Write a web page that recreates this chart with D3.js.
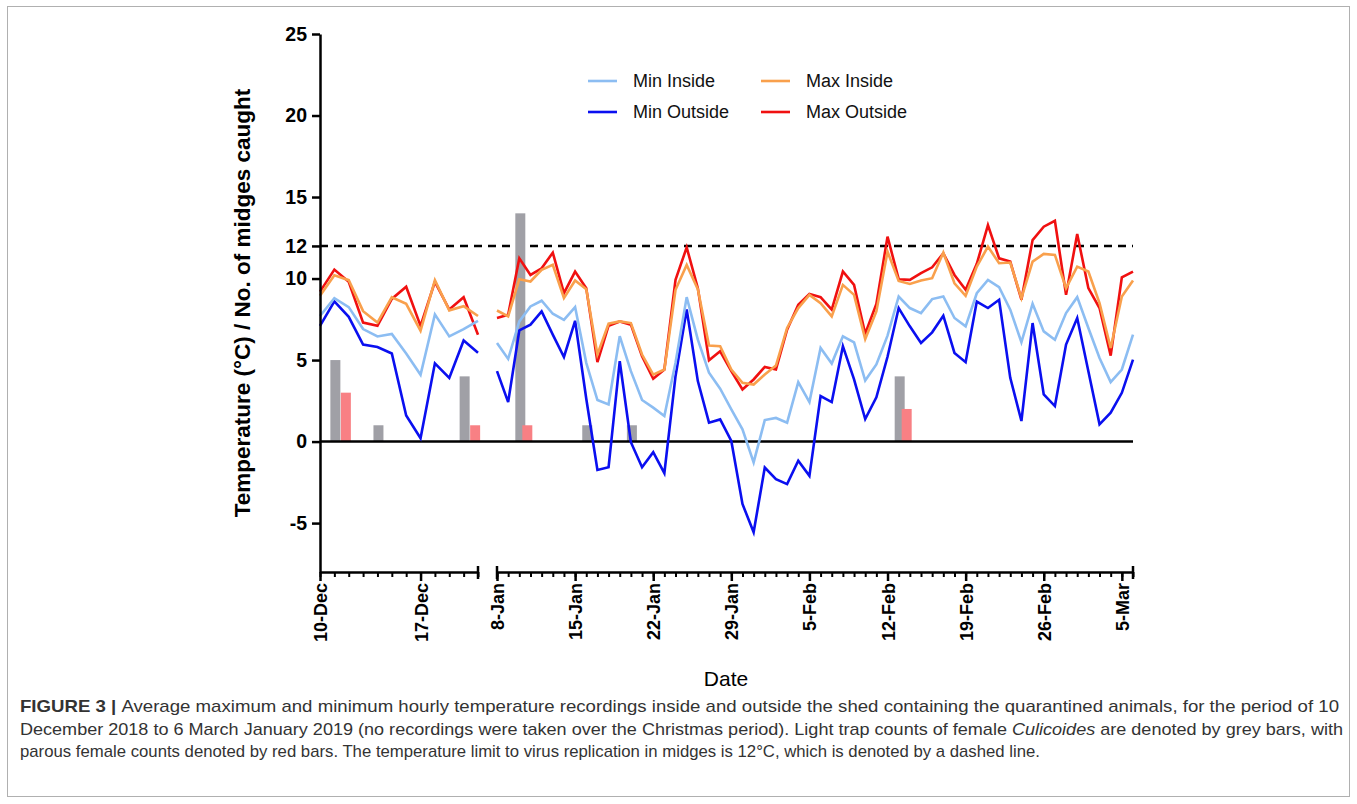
<!DOCTYPE html>
<html>
<head>
<meta charset="utf-8">
<script src="https://cdn.jsdelivr.net/npm/d3@7"></script>
<style>
  body { margin: 0; background: #fff; }
  svg { display: block; font-family: "Liberation Sans", Arial, sans-serif; }
</style>
</head>
<body>
<svg width="1357" height="804"></svg>
<script>
// --- data ---
const seriesNames = ["Min Inside", "Min Outside", "Max Inside", "Max Outside"];
const seriesColors = ["#8cbdf2", "#0a0ff0", "#f9a04c", "#f01010"];

// 10-Dec to 21-Dec 2018
const decMinInside  = [7.7, 8.8, 8.25, 6.9, 6.45, 6.6, 5.4, 4.1, 7.8, 6.45, 6.9, 7.4];
const decMinOutside = [7.1, 8.6, 7.65, 5.95, 5.8, 5.4, 1.6, 0.2, 4.8, 3.9, 6.2, 5.45];
const decMaxInside  = [8.95, 10.2, 9.9, 8.0, 7.3, 8.85, 8.45, 6.8, 9.9, 8.05, 8.3, 7.7];
const decMaxOutside = [9.2, 10.55, 9.8, 7.3, 7.1, 8.75, 9.5, 7.1, 9.8, 8.1, 8.85, 6.55];

// 8-Jan to 6-Mar 2019
const janMinInside = [6.05, 5.07, 7.37, 8.29, 8.64, 7.84, 7.47, 8.25, 4.83, 2.55,
  2.28, 6.46, 4.32, 2.55, 2.08, 1.57, 4.83, 8.86, 6.25, 4.22,
  3.24, 1.98, 0.75, -1.28, 1.32, 1.45, 1.16, 3.65, 2.42, 5.74,
  4.79, 6.46, 6.09, 3.74, 4.73, 6.5, 8.9, 8.19, 7.88, 8.74,
  8.9, 7.58, 7.07, 9.1, 9.92, 9.47, 8.09, 6.09, 8.45, 6.76,
  6.25, 7.88, 8.86, 6.97, 5.13, 3.65, 4.42, 6.56];
const janMinOutside = [4.32, 2.42, 6.82, 7.17, 7.98, 6.56, 5.19, 7.41, 2.63, -1.74,
  -1.57, 4.93, -0.04, -1.57, -0.65, -1.94, 4.01, 8.1, 3.71, 1.16,
  1.36, 0.04, -3.83, -5.56, -1.59, -2.3, -2.61, -1.18, -2.1, 2.79,
  2.42, 5.85, 3.81, 1.38, 2.72, 5.2, 8.19, 7.07, 6.05, 6.7,
  7.72, 5.44, 4.87, 8.59, 8.19, 8.7, 3.91, 1.26, 7.27, 2.89,
  2.18, 5.95, 7.58, 4.32, 1.06, 1.77, 2.99, 5.03];
const janMaxInside = [8.04, 7.68, 9.96, 9.82, 10.53, 10.84, 8.8, 9.88, 9.35, 5.34,
  7.23, 7.37, 7.27, 5.34, 4.11, 4.42, 9.31, 10.84, 9.35, 5.89,
  5.85, 4.42, 3.6, 3.5, 4.11, 4.66, 6.97, 8.19, 9.0, 8.49,
  7.68, 9.61, 9.0, 6.29, 7.98, 11.65, 9.85, 9.67, 9.88, 10.02,
  11.59, 9.71, 8.94, 10.73, 11.96, 10.94, 10.98, 8.8, 11.04, 11.51,
  11.45, 9.41, 10.73, 10.43, 8.49, 5.74, 8.9, 9.88];
const janMaxOutside = [7.58, 7.78, 11.24, 10.22, 10.63, 11.59, 9.1, 10.43, 9.41, 4.87,
  7.11, 7.37, 7.17, 5.23, 3.85, 4.42, 9.92, 11.91, 9.41, 4.99,
  5.54, 4.32, 3.2, 3.81, 4.58, 4.42, 6.86, 8.39, 9.06, 8.86,
  8.09, 10.43, 9.61, 6.61, 8.44, 12.57, 9.96, 9.92, 10.33, 10.69,
  11.55, 10.22, 9.31, 10.9, 13.28, 11.24, 11.04, 8.7, 12.36, 13.18,
  13.54, 9.0, 12.73, 9.41, 8.19, 5.27, 10.08, 10.43];

// light trap counts
const greyDates = ["2018-12-11", "2018-12-14", "2018-12-20", "2019-01-10", "2019-01-16", "2019-01-20", "2019-02-13"];
const greyCounts = [5, 1, 4, 14, 1, 1, 4];
const parousDates = ["2018-12-11", "2018-12-20", "2019-01-10", "2019-02-13"];
const parousCounts = [3, 1, 1, 2];

const yTicks = [-5, 0, 5, 10, 12, 15, 20, 25];
const decTicks = ["2018-12-10", "2018-12-17"];
const janTicks = ["2019-01-08", "2019-01-15", "2019-01-22", "2019-01-29", "2019-02-05",
  "2019-02-12", "2019-02-19", "2019-02-26", "2019-03-05"];
const threshold = 12;

// --- setup ---
const svg = d3.select("svg");
const parse = d3.timeParse("%Y-%m-%d");
const fmt = d3.timeFormat("%-d-%b");

const decStart = parse("2018-12-10"), decEnd = parse("2018-12-21");
const janStart = parse("2019-01-08"), janEnd = parse("2019-03-06");
const decDays = d3.timeDay.range(decStart, d3.timeDay.offset(decEnd, 1));
const janDays = d3.timeDay.range(janStart, d3.timeDay.offset(janEnd, 1));

const xDec = d3.scaleTime().domain([decStart, decEnd]).range([320, 478]);
const xJan = d3.scaleTime().domain([janStart, janEnd]).range([497, 1133]);
const y = d3.scaleLinear().domain([-8, 25]).range([572, 34]);
const xOf = d => (d < janStart ? xDec(d) : xJan(d));

// frame
svg.append("rect").attr("x", 7.5).attr("y", 6.5).attr("width", 1342).attr("height", 790)
  .attr("fill", "none").attr("stroke", "#b0b0b0");

// threshold line
svg.append("line")
  .attr("x1", 320).attr("x2", 1133)
  .attr("y1", y(threshold)).attr("y2", y(threshold))
  .attr("stroke", "#000").attr("stroke-width", 2.5).attr("stroke-dasharray", "8,6");

// bars
const bw = 10;
const grey = greyDates.map((d, i) => ({date: parse(d), v: greyCounts[i]}));
const parous = parousDates.map((d, i) => ({date: parse(d), v: parousCounts[i]}));

svg.append("g").selectAll("rect").data(grey).enter().append("rect")
  .attr("x", d => xOf(d.date) - 4)
  .attr("y", d => y(d.v))
  .attr("width", bw)
  .attr("height", d => y(0) - y(d.v))
  .attr("fill", "#a0a0a6");

svg.append("g").selectAll("rect").data(parous).enter().append("rect")
  .attr("x", d => xOf(d.date) + (d.date < janStart ? 6.5 : 3))
  .attr("y", d => y(d.v))
  .attr("width", bw)
  .attr("height", d => y(0) - y(d.v))
  .attr("fill", "#f88084");

// zero line
svg.append("line")
  .attr("x1", 320).attr("x2", 1133)
  .attr("y1", y(0)).attr("y2", y(0))
  .attr("stroke", "#000").attr("stroke-width", 2.5);

// series lines
const decSeries = [decMinInside, decMinOutside, decMaxInside, decMaxOutside];
const janSeries = [janMinInside, janMinOutside, janMaxInside, janMaxOutside];
const drawOrder = [3, 2, 1, 0];

const lineDec = d3.line().x((d, i) => xDec(decDays[i])).y(d => y(d));
const lineJan = d3.line().x((d, i) => xJan(janDays[i])).y(d => y(d));

const lines = svg.append("g").attr("fill", "none").attr("stroke-width", 2.6).attr("stroke-linejoin", "miter");
drawOrder.forEach(k => {
  lines.append("path").attr("d", lineDec(decSeries[k])).attr("stroke", seriesColors[k]);
  lines.append("path").attr("d", lineJan(janSeries[k])).attr("stroke", seriesColors[k]);
});

// y axis
const yAxis = svg.append("g").attr("transform", "translate(320,0)")
  .call(d3.axisLeft(y).tickValues(yTicks).tickFormat(d => String(d)).tickSize(8).tickPadding(5).tickSizeOuter(0));
yAxis.select(".domain").attr("stroke-width", 2.5);
yAxis.selectAll(".tick line").attr("stroke-width", 2.5);
yAxis.selectAll("text").attr("font-size", 19.5).attr("font-weight", "bold").attr("fill", "#000");

// x axes (two segments)
function xAxisSegment(scale, days, ticks) {
  const g = svg.append("g").attr("transform", "translate(0,572)");
  const minor = g.append("g").call(d3.axisBottom(scale).tickValues(days).tickSize(5).tickFormat("").tickSizeOuter(0));
  minor.select(".domain").attr("stroke-width", 2.5);
  minor.selectAll(".tick line").attr("stroke-width", 2);
  const major = g.append("g").call(d3.axisBottom(scale).tickValues(ticks.map(parse)).tickSize(9).tickFormat(fmt).tickSizeOuter(0));
  major.select(".domain").remove();
  major.selectAll(".tick line").attr("stroke-width", 2.5);
  major.selectAll("text")
    .attr("transform", "rotate(-90)")
    .attr("text-anchor", "end")
    .attr("x", -11).attr("y", 0).attr("dy", "0.36em")
    .attr("font-size", 18).attr("font-weight", "bold").attr("fill", "#000");
  const r = scale.range();
  g.append("line").attr("x1", r[1]).attr("x2", r[1]).attr("y1", -6).attr("y2", 7)
    .attr("stroke", "#000").attr("stroke-width", 2.5);
  if (r[0] > 320) {
    g.append("line").attr("x1", r[0]).attr("x2", r[0]).attr("y1", -6).attr("y2", 7)
      .attr("stroke", "#000").attr("stroke-width", 2.5);
  }
}
xAxisSegment(xDec, decDays, decTicks);
xAxisSegment(xJan, janDays, janTicks);

// axis titles
svg.append("text")
  .attr("transform", "translate(250,303) rotate(-90)")
  .attr("text-anchor", "middle")
  .attr("font-size", 22.5).attr("font-weight", "bold")
  .text("Temperature (°C) / No. of midges caught");

svg.append("text")
  .attr("x", 726).attr("y", 686)
  .attr("text-anchor", "middle")
  .attr("font-size", 21)
  .text("Date");

// legend
const legendPos = [[588, 81], [588, 112], [761, 81], [761, 112]];
const legend = svg.append("g");
seriesNames.forEach((name, k) => {
  const [lx, ly] = legendPos[k];
  legend.append("line").attr("x1", lx).attr("x2", lx + 29).attr("y1", ly).attr("y2", ly)
    .attr("stroke", seriesColors[k]).attr("stroke-width", 2.6);
  legend.append("text").attr("x", lx + 45).attr("y", ly).attr("dy", "0.35em")
    .attr("font-size", 18).attr("fill", "#111").text(name);
});

// caption
const capFont = '"Liberation Sans Narrow", "Arial Narrow", "Liberation Sans", sans-serif';
const cap = svg.append("g").attr("font-family", capFont).attr("font-size", 17).attr("fill", "#333");
const c1 = cap.append("text").attr("x", 20).attr("y", 712).attr("textLength", 1319).attr("lengthAdjust", "spacingAndGlyphs");
c1.append("tspan").attr("font-weight", "bold").text("FIGURE 3 | ");
c1.append("tspan").text("Average maximum and minimum hourly temperature recordings inside and outside the shed containing the quarantined animals, for the period of 10");
const c2 = cap.append("text").attr("x", 20).attr("y", 735).attr("textLength", 1323).attr("lengthAdjust", "spacingAndGlyphs");
c2.append("tspan").text("December 2018 to 6 March January 2019 (no recordings were taken over the Christmas period). Light trap counts of female ");
c2.append("tspan").attr("font-style", "italic").text("Culicoides");
c2.append("tspan").text(" are denoted by grey bars, with");
cap.append("text").attr("x", 20).attr("y", 757).attr("textLength", 1020).attr("lengthAdjust", "spacingAndGlyphs")
  .text("parous female counts denoted by red bars. The temperature limit to virus replication in midges is 12°C, which is denoted by a dashed line.");
</script>
</body>
</html>
